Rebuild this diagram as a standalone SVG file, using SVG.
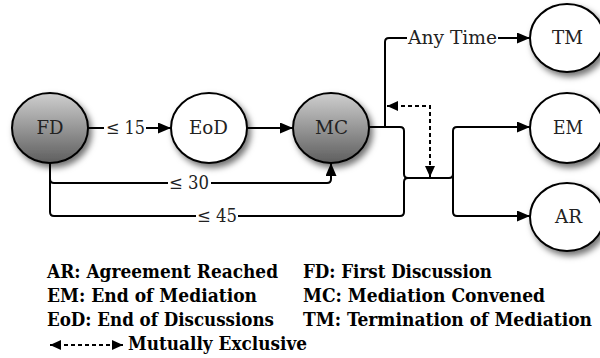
<svg xmlns="http://www.w3.org/2000/svg" width="600" height="358" viewBox="0 0 600 358">
<defs>
<linearGradient id="g" x1="0" y1="0" x2="0" y2="1">
<stop offset="0" stop-color="#cfcfcf"/>
<stop offset="1" stop-color="#5e5e5e"/>
</linearGradient>
<filter id="sh" x="-30%" y="-30%" width="170%" height="170%">
<feDropShadow dx="3" dy="4" stdDeviation="3" flood-color="#000" flood-opacity="0.55"/>
</filter>
<marker id="a" markerUnits="userSpaceOnUse" markerWidth="13" markerHeight="11" refX="13" refY="5.5" orient="auto-start-reverse" viewBox="0 0 13 11">
<path d="M0,0 L13,5.5 L0,11 z" fill="#000"/>
</marker>
<marker id="s" markerUnits="userSpaceOnUse" markerWidth="11" markerHeight="10" refX="11" refY="5" orient="auto-start-reverse" viewBox="0 0 11 10">
<path d="M0,0 L11,5 L0,10 z" fill="#000"/>
</marker>
</defs>
<style>
.n{stroke:#000;stroke-width:2;filter:url(#sh)}
.w{fill:#fff}
.d{fill:url(#g)}
.t{font-family:'DejaVu Serif Condensed','DejaVu Serif',serif;font-size:18px;fill:#222;text-anchor:middle}
.c{fill:none;stroke:#000;stroke-width:2}
.x{fill:none;stroke:#000;stroke-width:2;stroke-dasharray:4 3}
.l{font-family:'DejaVu Serif Condensed','DejaVu Serif',serif;font-size:18px;font-weight:bold;fill:#000}
</style>
<g id="connectors">
<path class="c" d="M88,128 H104"/>
<path class="c" d="M146,128 H171" marker-end="url(#a)"/>
<text class="t" x="125.5" y="134" textLength="39" lengthAdjust="spacingAndGlyphs">≤ 15</text>
<path class="c" d="M247,128 H293" marker-end="url(#a)"/>
<path class="c" d="M50,163 V179 Q50,183 54,183 H168"/>
<path class="c" d="M211,183 H327 Q331,183 331,179 V163" marker-end="url(#a)"/>
<text class="t" x="189" y="189" textLength="40" lengthAdjust="spacingAndGlyphs">≤ 30</text>
<path class="c" d="M50,179 V212 Q50,216 54,216 H196"/>
<path class="c" d="M238,216 H400 Q404,216 404,212 V182 Q404,178 408,178 H449 Q453,178 453,174 V131 Q453,127 457,127 H530" marker-end="url(#a)"/>
<path class="c" d="M453,174 V212 Q453,216 457,216 H530" marker-end="url(#a)"/>
<text class="t" x="217" y="222" textLength="40" lengthAdjust="spacingAndGlyphs">≤ 45</text>
<path class="c" d="M369,127 H400 Q404,127 404,131 V174 Q404,178 408,178"/>
<path class="c" d="M385,127 V42 Q385,38 389,38 H407"/>
<path class="c" d="M498,38 H530" marker-end="url(#a)"/>
<text class="t" x="452.5" y="44" textLength="89" lengthAdjust="spacingAndGlyphs">Any Time</text>
<path class="x" d="M387,106 H430 V177" marker-start="url(#s)" marker-end="url(#s)"/>
</g>
<g id="FD"><ellipse class="n d" cx="50" cy="128" rx="38" ry="35"/><text class="t" x="50" y="134" textLength="27" lengthAdjust="spacingAndGlyphs">FD</text></g>
<g id="EoD"><ellipse class="n w" cx="209" cy="128" rx="38" ry="35"/><text class="t" x="208.5" y="134" textLength="39" lengthAdjust="spacingAndGlyphs">EoD</text></g>
<g id="MC"><ellipse class="n d" cx="331" cy="128" rx="38" ry="35"/><text class="t" x="331.5" y="134" textLength="33" lengthAdjust="spacingAndGlyphs">MC</text></g>
<g id="TM"><ellipse class="n w" cx="567" cy="38" rx="37" ry="34"/><text class="t" x="567.5" y="44" textLength="31" lengthAdjust="spacingAndGlyphs">TM</text></g>
<g id="EM"><ellipse class="n w" cx="567" cy="128" rx="37" ry="35"/><text class="t" x="568" y="134" textLength="30" lengthAdjust="spacingAndGlyphs">EM</text></g>
<g id="AR"><ellipse class="n w" cx="567" cy="217" rx="37" ry="34"/><text class="t" x="568.5" y="223" textLength="27" lengthAdjust="spacingAndGlyphs">AR</text></g>
<g id="legend">
<text class="l" x="47" y="278" textLength="231" lengthAdjust="spacingAndGlyphs">AR: Agreement Reached</text>
<text class="l" x="47" y="302" textLength="210" lengthAdjust="spacingAndGlyphs">EM: End of Mediation</text>
<text class="l" x="47" y="326" textLength="227" lengthAdjust="spacingAndGlyphs">EoD: End of Discussions</text>
<path class="x" d="M50,345 H123" marker-start="url(#s)" marker-end="url(#s)"/>
<text class="l" x="128" y="350" textLength="179" lengthAdjust="spacingAndGlyphs">Mutually Exclusive</text>
<text class="l" x="303" y="278" textLength="189" lengthAdjust="spacingAndGlyphs">FD: First Discussion</text>
<text class="l" x="303" y="302" textLength="242" lengthAdjust="spacingAndGlyphs">MC: Mediation Convened</text>
<text class="l" x="303" y="326" textLength="289" lengthAdjust="spacingAndGlyphs">TM: Termination of Mediation</text>
</g>
</svg>
